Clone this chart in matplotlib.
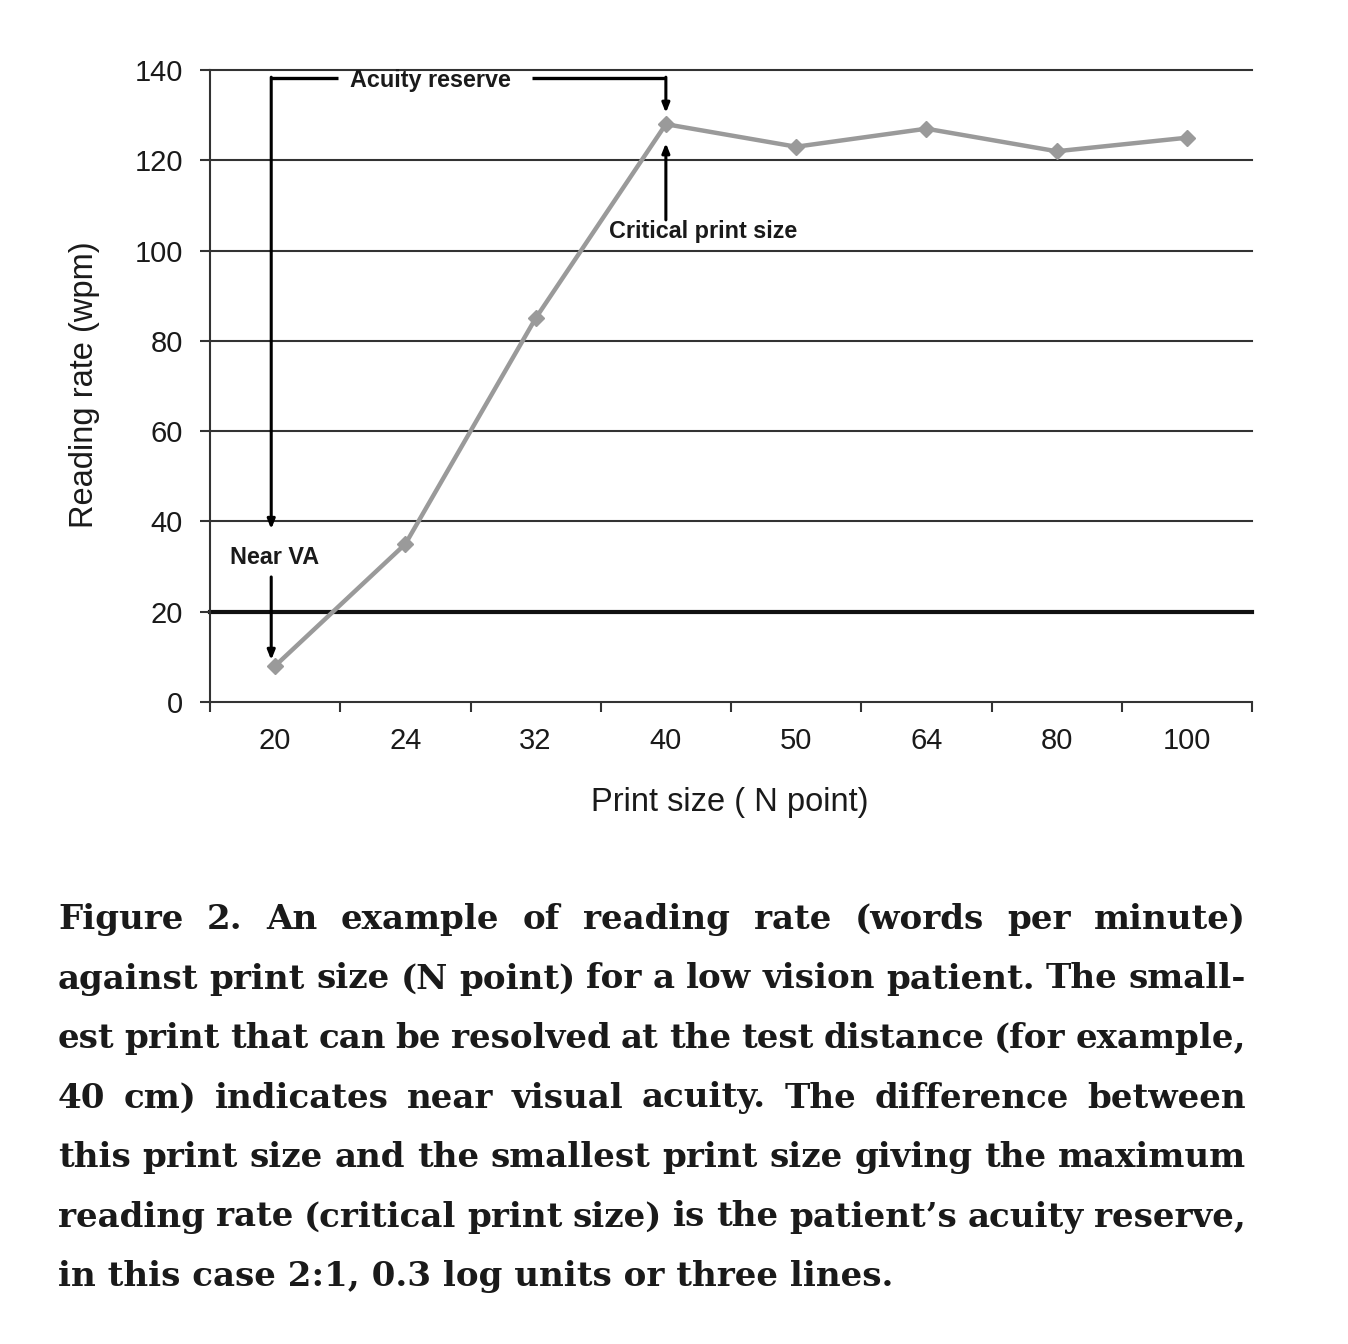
import matplotlib
matplotlib.use("Agg")
import matplotlib.pyplot as plt

# ---- data ----
print_sizes = ["20", "24", "32", "40", "50", "64", "80", "100"]
reading_rate = [8, 35, 85, 128, 123, 127, 122, 125]
y_ticks = [0, 20, 40, 60, 80, 100, 120, 140]

caption_lines = [
    "Figure 2. An example of reading rate (words per minute)",
    "against print size (N point) for a low vision patient. The small-",
    "est print that can be resolved at the test distance (for example,",
    "40 cm) indicates near visual acuity. The difference between",
    "this print size and the smallest print size giving the maximum",
    "reading rate (critical print size) is the patient\u2019s acuity reserve,",
    "in this case 2:1, 0.3 log units or three lines.",
]

W, H = 1348, 1344
DPI = 100
plt.rcParams['font.family'] = ['Liberation Sans', 'DejaVu Sans']

fig = plt.figure(figsize=(W / DPI, H / DPI), dpi=DPI)
fig.patch.set_facecolor('white')

def fx(px):
    return px / W

def fy(py):
    return 1 - py / H

ax = fig.add_axes([fx(210), fy(702), (1252 - 210) / W, (702 - 70) / H])
ax.set_xlim(-0.5, len(print_sizes) - 0.5)
ax.set_ylim(0, 140)

# gridlines
for v in y_ticks[1:]:
    if v == 20:
        ax.axhline(v, color='#111111', lw=3.0, zorder=1, clip_on=False)
    else:
        ax.axhline(v, color='#333333', lw=1.5, zorder=1, clip_on=False)

xs = list(range(len(print_sizes)))
ax.plot(xs, reading_rate, color='#9a9a9a', lw=3.2, marker='D', markersize=8,
        markeredgecolor='#9a9a9a', markerfacecolor='#9a9a9a', zorder=3)

for s in ['top', 'right']:
    ax.spines[s].set_visible(False)
for s in ['left', 'bottom']:
    ax.spines[s].set_color('#333333')
    ax.spines[s].set_linewidth(1.5)

ax.set_yticks(y_ticks)
ax.set_yticklabels([str(v) for v in y_ticks])
ax.tick_params(axis='y', direction='out', length=7.5, width=1.5, color='#333333',
               labelsize=21, pad=12, labelcolor='#1a1a1a')
ax.set_xticks(xs)
ax.set_xticklabels(print_sizes)
ax.tick_params(axis='x', which='major', length=0, labelsize=21, pad=18,
               labelcolor='#1a1a1a')
ax.set_xticks([x - 0.5 for x in xs] + [len(xs) - 0.5], minor=True)
ax.tick_params(axis='x', which='minor', direction='out', length=7.5, width=1.5,
               color='#333333')

# ---- annotations ----
arrow_kw = dict(arrowstyle='-|>,head_length=0.55,head_width=0.22', lw=2.2,
                color='black', shrinkA=0, shrinkB=0)
bracket_y = 138.2
left_x = -0.03
crit_x = 3.0
ax.plot([left_x, 0.484], [bracket_y, bracket_y], color='black', lw=2.4,
        solid_capstyle='butt', zorder=4)
ax.plot([1.97, crit_x], [bracket_y, bracket_y], color='black', lw=2.4,
        solid_capstyle='butt', zorder=4)
ax.annotate('', xy=(left_x, 38.3), xytext=(left_x, bracket_y + 0.2),
            arrowprops=arrow_kw, zorder=4)
ax.annotate('', xy=(crit_x, 130.5), xytext=(crit_x, bracket_y + 0.2),
            arrowprops=arrow_kw, zorder=4)
ann_kw = dict(fontsize=16.8, fontweight='bold', color='#1a1a1a')
ax.text(1.19, 137.6, 'Acuity reserve', ha='center', va='center', **ann_kw)
ax.annotate('', xy=(crit_x, 123.8), xytext=(crit_x, 106.8),
            arrowprops=arrow_kw, zorder=4)
ax.text(2.565, 104.3, 'Critical print size', ha='left', va='center', **ann_kw)
ax.text(-0.008, 32.1, 'Near VA', ha='center', va='center', **ann_kw)
ax.annotate('', xy=(left_x, 9.3), xytext=(left_x, 27.7),
            arrowprops=arrow_kw, zorder=4)

# axis labels
fig.text(fx(85), fy(385), 'Reading rate (wpm)', rotation=90, ha='center',
         va='center', fontsize=23.5, color='#1a1a1a')
fig.text(fx(730), fy(803), 'Print size ( N point)', ha='center', va='center',
         fontsize=23.5, color='#1a1a1a')

# ---- caption (justified) ----
renderer = fig.canvas.get_renderer()
cap_family = ['DejaVu Serif', 'Liberation Serif']
cap_kw = dict(fontsize=24, fontweight='bold', color='#1a1a1a', family=cap_family)
probe = fig.text(0, 0, caption_lines[-1], **cap_kw)
w_last = probe.get_window_extent(renderer).width
probe.remove()
cap_kw['fontsize'] = 24 * 837 / w_last

left_px, right_px = 58, 1246
base0, step = 929, 59.5
for i, line in enumerate(caption_lines):
    yb = fy(base0 + i * step)
    if i == len(caption_lines) - 1:
        fig.text(fx(left_px), yb, line, ha='left', va='baseline', **cap_kw)
        continue
    words = line.split(' ')
    texts = [fig.text(0, yb, w, ha='left', va='baseline', **cap_kw) for w in words]
    widths = [t.get_window_extent(renderer).width for t in texts]
    gap = (right_px - left_px - sum(widths)) / (len(words) - 1)
    xpos = left_px
    for t, wd in zip(texts, widths):
        t.set_x(fx(xpos))
        xpos += wd + gap

fig.savefig('out.png', dpi=DPI, facecolor='white')
